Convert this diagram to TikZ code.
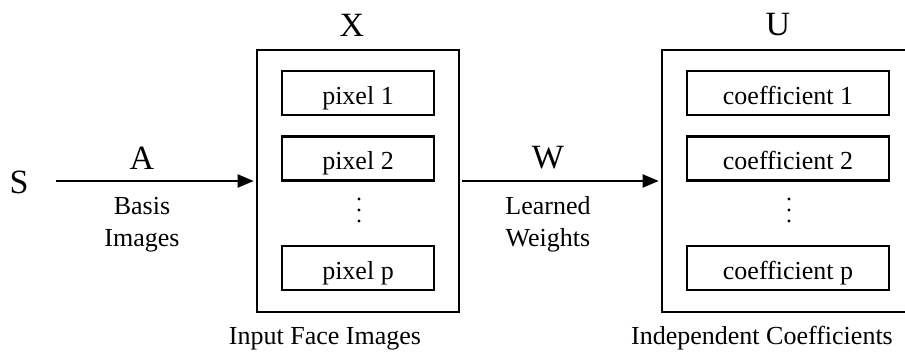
\documentclass[tikz,border=0pt]{standalone}
\usepackage{fontspec}
\setmainfont{Liberation Serif}
\usepackage{tikz}
\usetikzlibrary{arrows.meta,positioning,calc}

\begin{document}
\begin{tikzpicture}[x=1pt, y=-1pt,
    big/.style={font=\fontsize{34}{40}\selectfont, anchor=base},
    small/.style={font=\fontsize{26}{32}\selectfont, align=center},
    outerbox/.style={draw, line width=2.6pt, minimum height=262pt, inner sep=0pt},
    cell/.style={draw, line width=2.2pt, minimum height=44pt, inner sep=0pt,
                 text height=23pt, text depth=0pt, font=\fontsize{26}{31}\selectfont},
    flow/.style={line width=2pt, -{Triangle[length=16pt,width=13pt]}}]
  \clip (0,0) rectangle (905,352);

  % Input face images
  \node[outerbox, minimum width=202pt] (X) at (358,181) {};
  \node[big] (xlbl) at (352,37) {X};
  \node[cell, minimum width=152pt] (pix1) at (358,93) {pixel 1};
  \node[cell, minimum width=152pt] (pix2) at (358,158.5) {pixel 2};
  \node[cell, minimum width=152pt] (pixp) at (358,268) {pixel p};
  \node[small, anchor=base] (inlbl) at (325,345) {Input Face Images};

  % Independent coefficients (right side runs off the page)
  \node[outerbox, minimum width=252pt] (U) at (788,181) {};
  \node[big] (ulbl) at (778,36) {U};
  \node[cell, minimum width=202pt] (coef1) at (788,93) {coefficient 1};
  \node[cell, minimum width=202pt] (coef2) at (788,158.5) {coefficient 2};
  \node[cell, minimum width=202pt] (coefp) at (788,268) {coefficient p};
  \node[small, anchor=base] (coeflbl) at (762,345) {Independent Coefficients};

  % vertical dots
  \foreach \x in {359,789}
    \foreach \y in {199,210,221}
      \fill (\x,\y) circle (1.7pt);

  % Source and arrows
  \node[big] (S) at (19,194) {S};
  \draw[flow, shorten <=24pt, shorten >=2pt] (S.east |- X.west) -- (X.west);
  \node[big] (albl) at (142,169.5) {A};
  \node[small] (basis) at (142,224.5) {Basis\\Images};

  \draw[flow, shorten <=2pt, shorten >=2pt] (X.east) -- (U.west);
  \node[big] (wlbl) at (548,169) {W};
  \node[small] (learned) at (548,224.5) {Learned\\Weights};
\end{tikzpicture}
\end{document}
